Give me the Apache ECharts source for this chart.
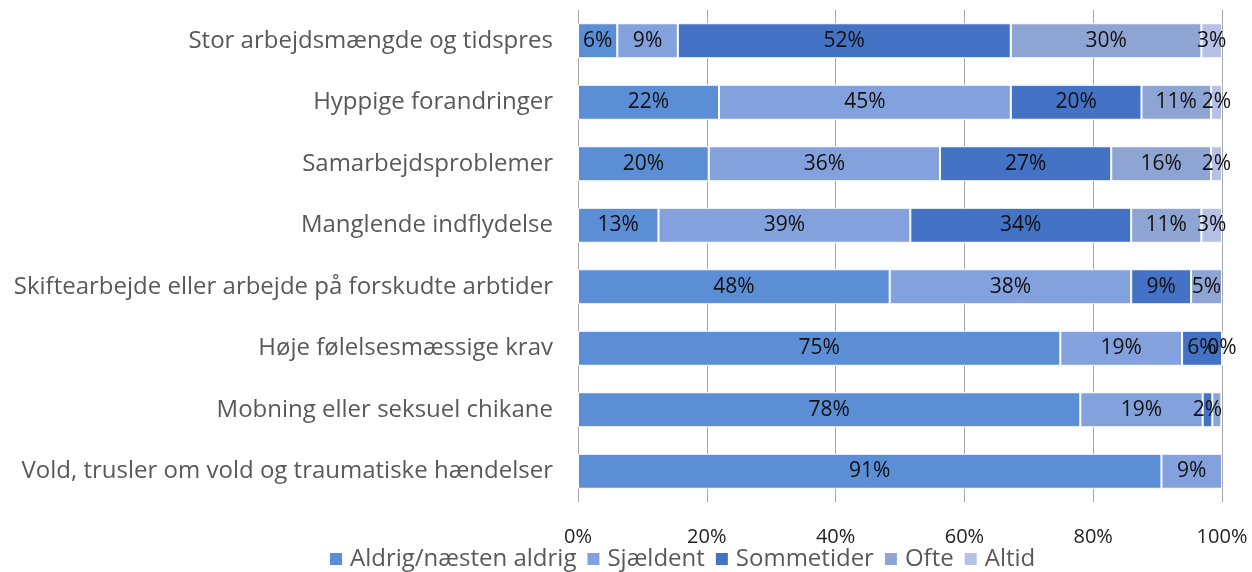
<!DOCTYPE html>
<html>
<head>
<meta charset="utf-8">
<script src="https://cdn.jsdelivr.net/npm/echarts@6/dist/echarts.min.js"></script>
<style>
  html,body{margin:0;padding:0;background:#fff;}
  #chart{width:1252px;height:572px;}
</style>
</head>
<body>
<div id="chart"></div>
<script>
// categories top to bottom as in the picture
const categories = [
  "Stor arbejdsmængde og tidspres",
  "Hyppige forandringer",
  "Samarbejdsproblemer",
  "Manglende indflydelse",
  "Skiftearbejde eller arbejde på forskudte arbtider",
  "Høje følelsesmæssige krav",
  "Mobning eller seksuel chikane",
  "Vold, trusler om vold og traumatiske hændelser"
];
const seriesNames = ["Aldrig/næsten aldrig","Sjældent","Sommetider","Ofte","Altid"];

// percent values per category (same order as categories)
const aldrig     = [6.1, 21.9, 20.3, 12.5, 48.4, 74.9, 78.0, 90.6];
const sjaeldent  = [9.4, 45.3, 35.9, 39.1, 37.5, 18.9, 19.0, 9.4];
const sommetider = [51.7, 20.3, 26.6, 34.3, 9.3, 6.2, 1.5, null];
const ofte       = [29.6, 10.8, 15.5, 10.9, 4.8, 0, 1.4, null];
const altid      = [3.2, 1.7, 1.7, 3.2, null, null, null, null];

const colors = ["#5b8ed5","#83a1dc","#4472c4","#8ea5d4","#b6c1e5"];
const values = [aldrig, sjaeldent, sommetider, ofte, altid];

const chart = echarts.init(document.getElementById("chart"));
const font = "'Open Sans', sans-serif";

chart.setOption({
  animation:false,
  grid:{left:578, right:30, top:10, bottom:70},
  xAxis:{
    type:"value", min:0, max:100, interval:20,
    axisLine:{show:false}, axisTick:{show:false},
    splitLine:{lineStyle:{color:"#a6a6a6", width:1}},
    axisLabel:{formatter:v=>v+"%", color:"#222", fontSize:20, fontFamily:font, margin:25}
  },
  yAxis:{
    type:"category", data:categories, inverse:true,
    axisLine:{show:false}, axisTick:{show:false},
    axisLabel:{color:"#595959", fontSize:24, fontFamily:font, margin:25}
  },
  legend:{
    left:328, top:547, padding:0, itemWidth:14, itemHeight:14, itemGap:9, icon:"rect",
    textStyle:{color:"#595959", fontSize:24, fontFamily:font, padding:[0,0,0,2]},
    data:seriesNames
  },
  series: seriesNames.map((name,i)=>({
    name, type:"bar", stack:"total", barWidth:35,
    itemStyle:{color:colors[i], borderColor:"#fff", borderWidth:1},
    label:{
      show:true, position:"inside", color:"#111", fontSize:21, fontFamily:font,
      formatter:p=>{
        const v=p.value;
        if(v==null) return "";
        if(v>0 && v<1.45) return "";
        return Math.round(v)+"%";
      }
    },
    data: values[i]
  }))
});
</script>
</body>
</html>
